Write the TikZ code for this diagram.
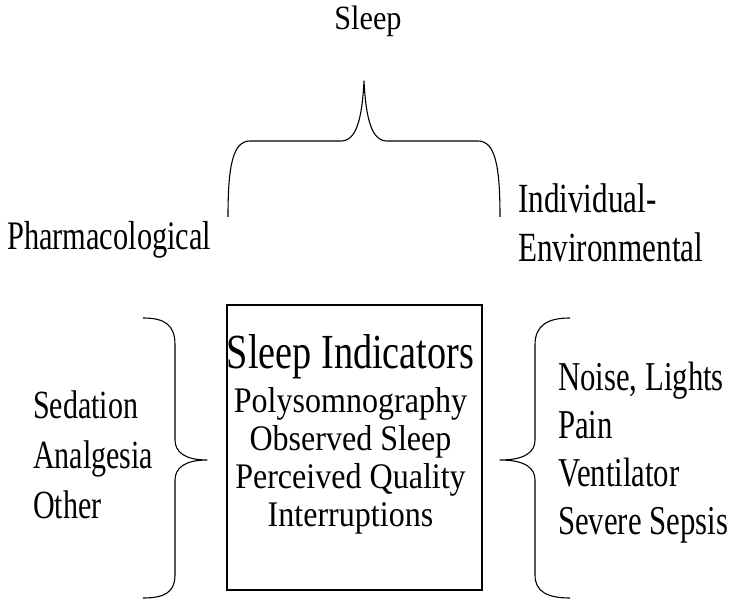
\documentclass[tikz,border=0pt]{standalone}
\usepackage{fontspec}
\setmainfont{Liberation Serif}[FakeStretch=0.89]
\newfontfamily\outerfont{Liberation Serif}[FakeStretch=0.75]
\newfontfamily\headfont{Liberation Serif}[FakeStretch=0.78]
\usepackage{tikz}
\usetikzlibrary{positioning}
\lineskiplimit=-100pt
\tikzset{
  % Text styles
  sidetext/.style={anchor=base west, align=left, inner sep=0pt, font=\outerfont\fontsize{40.5}{50}\selectfont},
  toptext/.style={anchor=base, inner sep=0pt, font=\fontsize{34}{40}\selectfont},
  boxtext/.style={anchor=base, align=center, inner sep=0pt, font=\fontsize{36}{38.3}\selectfont},
  % Box and brace styles
  indbox/.style={rectangle, draw=black, line width=1.1pt, minimum width=255pt, minimum height=285pt, inner sep=0pt},
  bracepath/.style={draw=black, line width=1.1pt, line join=round}
}
\begin{document}
\begin{tikzpicture}[x=1pt, y=-1pt]
  \useasboundingbox (0,0) rectangle (732,601);

  % Top heading and the two groups (base = last line)
  \node[toptext] (sleep) at (368,30) {Sleep};
  \node[sidetext] (pharm) at (7,250) {Pharmacological};
  \node[sidetext, font=\outerfont\fontsize{41.5}{49}\selectfont] (indenv) at (518,262) {Individual-\\Environmental};

  % Top brace
  \draw[bracepath] (228,217) .. controls (228,165) and (233,141) .. (250,141)
    -- (341,141) .. controls (356,141) and (362,120) .. (364,81)
    .. controls (366,120) and (372,141) .. (387,141)
    -- (478,141) .. controls (495,141) and (500,165) .. (500,217);

  % Indicator box
  \node[indbox] (ind) at (354.5,447.5) {};
  \node[boxtext] (indtext) at (350.5,527) {{\headfont\fontsize{49}{38.3}\selectfont Sleep Indicators}\\[4.8pt]Polysomnography\\Observed Sleep\\Perceived Quality\\Interruptions};

  % Left group and brace
  \node[sidetext, font=\outerfont\fontsize{40}{50}\selectfont] (pharmlist) at (33,519) {Sedation\\Analgesia\\Other};
  \draw[bracepath] (143,318) .. controls (165,318) and (175,325) .. (175,345)
    -- (175,440) .. controls (175,452) and (185,460) .. (207,460)
    .. controls (185,460) and (175,468) .. (175,480)
    -- (175,575) .. controls (175,592) and (165,598) .. (143,598);

  % Right group and brace
  \node[sidetext, font=\outerfont\fontsize{41}{48.3}\selectfont] (envlist) at (558,535) {Noise, Lights\\Pain\\Ventilator\\Severe Sepsis};
  \draw[bracepath] (570,318) .. controls (548,318) and (535,325) .. (535,345)
    -- (535,440) .. controls (535,452) and (525,460) .. (500,460)
    .. controls (525,460) and (535,468) .. (535,480)
    -- (535,575) .. controls (535,592) and (548,598) .. (570,598);
\end{tikzpicture}
\end{document}
